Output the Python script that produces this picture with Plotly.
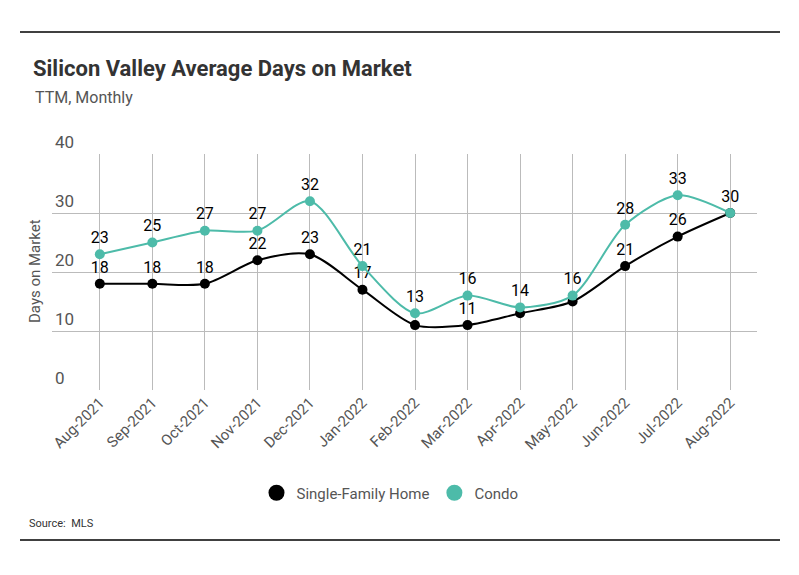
import plotly.graph_objects as go

# данные
months = ['Aug-2021', 'Sep-2021', 'Oct-2021', 'Nov-2021', 'Dec-2021', 'Jan-2022', 'Feb-2022',
          'Mar-2022', 'Apr-2022', 'May-2022', 'Jun-2022', 'Jul-2022', 'Aug-2022']
single_family = [18, 18, 18, 22, 23, 17, 11, 11, 13, 15, 21, 26, 30]
condo = [23, 25, 27, 27, 32, 21, 13, 16, 14, 16, 28, 33, 30]
# подписи single-family, которых нет в оригинале (перекрыты точками condo)
sf_hidden = ['Feb-2022', 'Apr-2022', 'May-2022', 'Aug-2022']

FONT = 'Roboto, sans-serif'
TEAL = '#4DBBA9'

# страница рисуется со сдвигом 8px (отступ body), поэтому координаты сдвинуты
OFF = 8
L, R, T, B = 52 - OFF, 757 - OFF, 154 - OFF, 390 - OFF
W, H = R - L, B - T


def px(x):
    return (x - OFF - L) / W


def py(y):
    return (B - (y - OFF)) / H


sf_text = ['' if m in sf_hidden else str(v) for m, v in zip(months, single_family)]

fig = go.Figure()
fig.add_trace(go.Scatter(x=months, y=single_family, mode='lines+markers+text',
                         line=dict(color='black', width=2, shape='spline', smoothing=0.8),
                         marker=dict(color='black', size=10),
                         text=sf_text, textposition='top center',
                         textfont=dict(size=16, color='black', family=FONT),
                         showlegend=False, cliponaxis=False))
fig.add_trace(go.Scatter(x=months, y=condo, mode='lines+markers+text',
                         line=dict(color=TEAL, width=2, shape='spline', smoothing=0.8),
                         marker=dict(color=TEAL, size=10),
                         text=[str(v) for v in condo], textposition='top center',
                         textfont=dict(size=16, color='black', family=FONT),
                         showlegend=False, cliponaxis=False))
# легенда только с кружками
fig.add_trace(go.Scatter(x=[None], y=[None], mode='markers', name='Single-Family Home',
                         marker=dict(color='black', size=16)))
fig.add_trace(go.Scatter(x=[None], y=[None], mode='markers', name='Condo',
                         marker=dict(color=TEAL, size=16)))

fig.update_layout(
    width=799, height=575,
    paper_bgcolor='white', plot_bgcolor='white',
    margin=dict(l=L, r=799 - R, t=T, b=575 - B),
    font=dict(family=FONT, color='#555555'),
    title=dict(text='<b>Silicon Valley Average Days on Market</b>',
               x=(33 - OFF) / 799, xanchor='left', y=1 - (68 - OFF) / 575, yanchor='middle',
               font=dict(size=22, color='#333333', family=FONT)),
    legend=dict(orientation='h', x=px(390), xanchor='center', y=py(493), yanchor='middle',
                font=dict(size=15, color='#555555'), itemsizing='trace'),
    xaxis=dict(range=[-0.91, 12.51], showgrid=True, gridcolor='#bbbbbb', gridwidth=1,
               tickangle=-45, tickfont=dict(size=15, color='#555555'),
               showline=False, zeroline=False, ticks=''),
    yaxis=dict(range=[0, 40], dtick=10, showgrid=True, gridcolor='#bbbbbb', gridwidth=1,
               ticklabelposition='inside top', ticklabeloverflow='allow',
               tickfont=dict(size=17, color='#555555'),
               zeroline=False, showline=False, ticks=''),
    annotations=[
        dict(text='TTM, Monthly', xref='paper', yref='paper', x=px(33), y=py(97),
             xanchor='left', yanchor='middle', showarrow=False,
             font=dict(size=16, color='#555555')),
        dict(text='Days on Market', xref='paper', yref='paper', x=px(35), y=py(271),
             xanchor='center', yanchor='middle', textangle=-90, showarrow=False,
             font=dict(size=15, color='#555555')),
        dict(text='Source:  MLS', xref='paper', yref='paper', x=px(27), y=py(523),
             xanchor='left', yanchor='middle', showarrow=False,
             font=dict(size=11, color='#333333')),
    ],
    shapes=[
        dict(type='line', xref='paper', yref='paper', x0=px(20), x1=px(780),
             y0=py(32), y1=py(32), line=dict(color='black', width=1.5)),
        dict(type='line', xref='paper', yref='paper', x0=px(20), x1=px(780),
             y0=py(540), y1=py(540), line=dict(color='black', width=1.5)),
    ],
)

fig.write_html('out.html')
